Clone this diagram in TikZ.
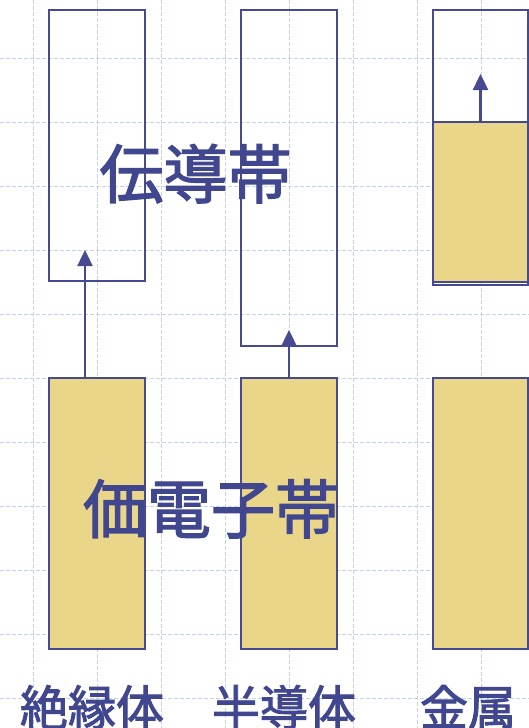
\documentclass[tikz,border=0pt]{standalone}
\usepackage{fontspec}
\newfontfamily\jpfont[FakeBold=2]{Noto Sans CJK JP}
\usetikzlibrary{arrows.meta}
\definecolor{bandline}{RGB}{70,74,145}
\definecolor{bandtext}{RGB}{64,71,142}
\definecolor{bandfill}{RGB}{234,214,136}
\definecolor{gridcol}{RGB}{196,208,246}
\tikzset{
  band/.style={draw=bandline, line width=2pt, rectangle, inner sep=0pt, outer sep=0pt, anchor=north west},
  filledband/.style={band, fill=bandfill},
  excite/.style={draw=bandline, line width=2.4pt, -{Triangle[width=15pt,length=16pt]}},
  bigtext/.style={font=\jpfont\fontsize{64pt}{70pt}\selectfont, text=bandtext, inner sep=0pt, anchor=base},
  labeltext/.style={font=\jpfont\fontsize{48pt}{52pt}\selectfont, text=bandtext, inner sep=0pt, anchor=base},
  gridline/.style={draw=gridcol, line width=0.8pt, dash pattern=on 4pt off 2pt}
}
\begin{document}
\begin{tikzpicture}[x=1pt,y=-1pt]
\useasboundingbox (0,0) rectangle (529,728);
\fill[white] (0,0) rectangle (529,728);
% grid
\foreach \gx in {33,97,...,481} { \draw[gridline] (\gx,0) -- (\gx,728); }
\foreach \gy in {58,122,...,698} { \draw[gridline] (0,\gy) -- (529,\gy); }
% insulator
\node[band, minimum width=96pt, minimum height=271pt] (ic) at (49,10) {};
\node[filledband, minimum width=96pt, minimum height=271pt] (iv) at (49,378) {};
% semiconductor
\node[band, minimum width=96pt, minimum height=336pt] (sc) at (241,10) {};
\node[filledband, minimum width=96pt, minimum height=271pt] (sv) at (241,378) {};
% metal
\node[band, minimum width=95pt, minimum height=275pt] (mc) at (433,10) {};
\node[filledband, minimum width=95pt, minimum height=160pt] (mf) at (433,122) {};
\node[filledband, minimum width=95pt, minimum height=271pt] (mv) at (433,378) {};
% arrows
\coordinate (iarrowstart) at (85,378);
\coordinate (iarrowend) at (85,250);
\coordinate (sarrowend) at (289,330);
\coordinate (marrowend) at (480.5,74);
\draw[excite] (iarrowstart) -- (iarrowend);
\draw[excite] (sv.north) -- (sarrowend);
\draw[excite] (mf.north) -- (marrowend);
% texts
\node[bigtext] (cbtext) at (195.5,198) {伝導帯};
\node[bigtext] (vbtext) at (211,533) {価電子帯};
\node[labeltext] (lins) at (92,725.5) {絶縁体};
\node[labeltext] (lsemi) at (284,725.5) {半導体};
\node[labeltext] (lmetal) at (468,725.5) {金属};
\end{tikzpicture}
\end{document}
